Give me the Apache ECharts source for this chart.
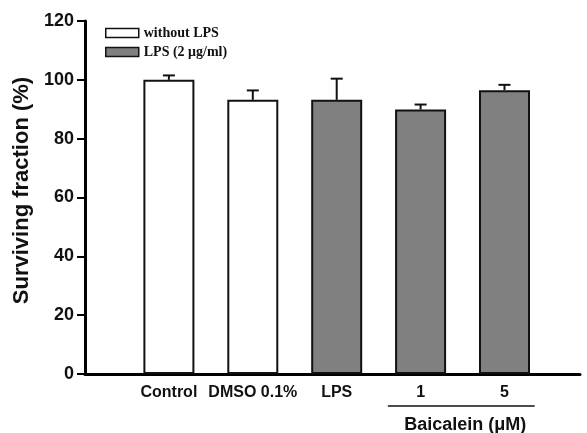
<!DOCTYPE html>
<html><head><meta charset="utf-8">
<script src="https://cdn.jsdelivr.net/npm/echarts@6/dist/echarts.min.js"></script>
<style>html,body{margin:0;padding:0;background:#fff}#c{width:587px;height:433px}</style>
</head><body><div id="c"></div>
<script>
var categories = ['Control', 'DMSO 0.1%', 'LPS', '1', '5'];
var positions = [1, 2, 3, 4, 5];
var withoutLPS = [100, 93.2];
var withLPS = [93.2, 89.9, 96.5];
var errors = [1.5, 3.2, 7.2, 1.7, 1.8];
var yTicks = [0, 20, 40, 60, 80, 100, 120];
var bracket = [[3.61, 5.36, 'Baicalein (\u03bcM)']];

var allVals = withoutLPS.concat(withLPS);
var chart = echarts.init(document.getElementById('c'));
var F = 'Liberation Sans, Arial, sans-serif';
chart.setOption({
  animation: false,
  legend: {
    orient: 'vertical', left: 105, top: 26, padding: 0, itemWidth: 33, itemHeight: 9, itemGap: 5,
    textStyle: {fontFamily: 'Liberation Serif, Times New Roman, serif', fontWeight: 'bold', fontSize: 14, color: '#111'},
    data: [
      {name: 'without LPS', icon: 'rect', itemStyle: {color: '#fff', borderColor: '#111', borderWidth: 1.5}},
      {name: 'LPS (2 \u03bcg/ml)', icon: 'rect', itemStyle: {color: '#808080', borderColor: '#111', borderWidth: 1.5}}
    ]
  },
  grid: {left: 85, right: 7, top: 21, bottom: 59},
  xAxis: {
    type: 'value', min: 0, max: 5.9, interval: 1,
    splitLine: {show: false}, axisTick: {show: false},
    axisLine: {lineStyle: {color: '#000', width: 3}},
    axisLabel: {
      margin: 11, fontFamily: F, fontWeight: 'bold', fontSize: 16, color: '#111',
      formatter: function (v) { var i = positions.indexOf(v); return i >= 0 ? categories[i] : ''; }
    }
  },
  yAxis: {
    type: 'value', min: 0, max: 120, interval: 20,
    name: 'Surviving fraction (%)', nameLocation: 'middle', nameGap: 52,
    nameTextStyle: {fontFamily: F, fontWeight: 'bold', fontSize: 22, color: '#111', padding: [0, 0, 0, 14]},
    splitLine: {show: false},
    axisLine: {show: true, lineStyle: {color: '#000', width: 3}},
    axisTick: {show: true, length: 8, lineStyle: {color: '#000', width: 2}},
    axisLabel: {margin: 11, fontFamily: F, fontWeight: 'bold', fontSize: 18, color: '#111',
      formatter: function (v) { return yTicks.indexOf(v) >= 0 ? String(v) : ''; }}
  },
  series: [
    {name: 'without LPS', type: 'bar', barWidth: 51, barGap: '-100%',
      itemStyle: {color: '#fff', borderColor: '#111', borderWidth: 2},
      data: withoutLPS.map(function (v, i) { return [positions[i], v]; })},
    {name: 'LPS (2 \u03bcg/ml)', type: 'bar', barWidth: 51, barGap: '-100%',
      itemStyle: {color: '#808080', borderColor: '#111', borderWidth: 2},
      data: withLPS.map(function (v, i) { return [positions[i + withoutLPS.length], v]; })},
    {type: 'custom', z: 1, silent: true,
      data: allVals.map(function (v, i) { return [positions[i], v, errors[i]]; }),
      renderItem: function (params, api) {
        var x = api.value(0), v = api.value(1), e = api.value(2);
        var p0 = api.coord([x, v]), p1 = api.coord([x, v + e]);
        var st = {stroke: '#111', lineWidth: 2};
        return {type: 'group', children: [
          {type: 'line', shape: {x1: p0[0], y1: p0[1], x2: p1[0], y2: p1[1]}, style: st},
          {type: 'line', shape: {x1: p1[0] - 6, y1: p1[1], x2: p1[0] + 6, y2: p1[1]}, style: st}
        ]};
      }},
    {type: 'custom', silent: true, clip: false,
      data: bracket,
      renderItem: function (params, api) {
        var a = api.coord([api.value(0), 0]), b = api.coord([api.value(1), 0]);
        var y = a[1] + 32;
        return {type: 'group', children: [
          {type: 'line', shape: {x1: a[0], y1: y, x2: b[0], y2: y}, style: {stroke: '#111', lineWidth: 1.5}},
          {type: 'text', style: {x: (a[0] + b[0]) / 2 + 4, y: y + 19, text: bracket[params.dataIndex][2],
            textAlign: 'center', textVerticalAlign: 'middle', fill: '#111',
            font: 'bold 18px ' + F}}
        ]};
      }}
  ]
});
</script></body></html>
